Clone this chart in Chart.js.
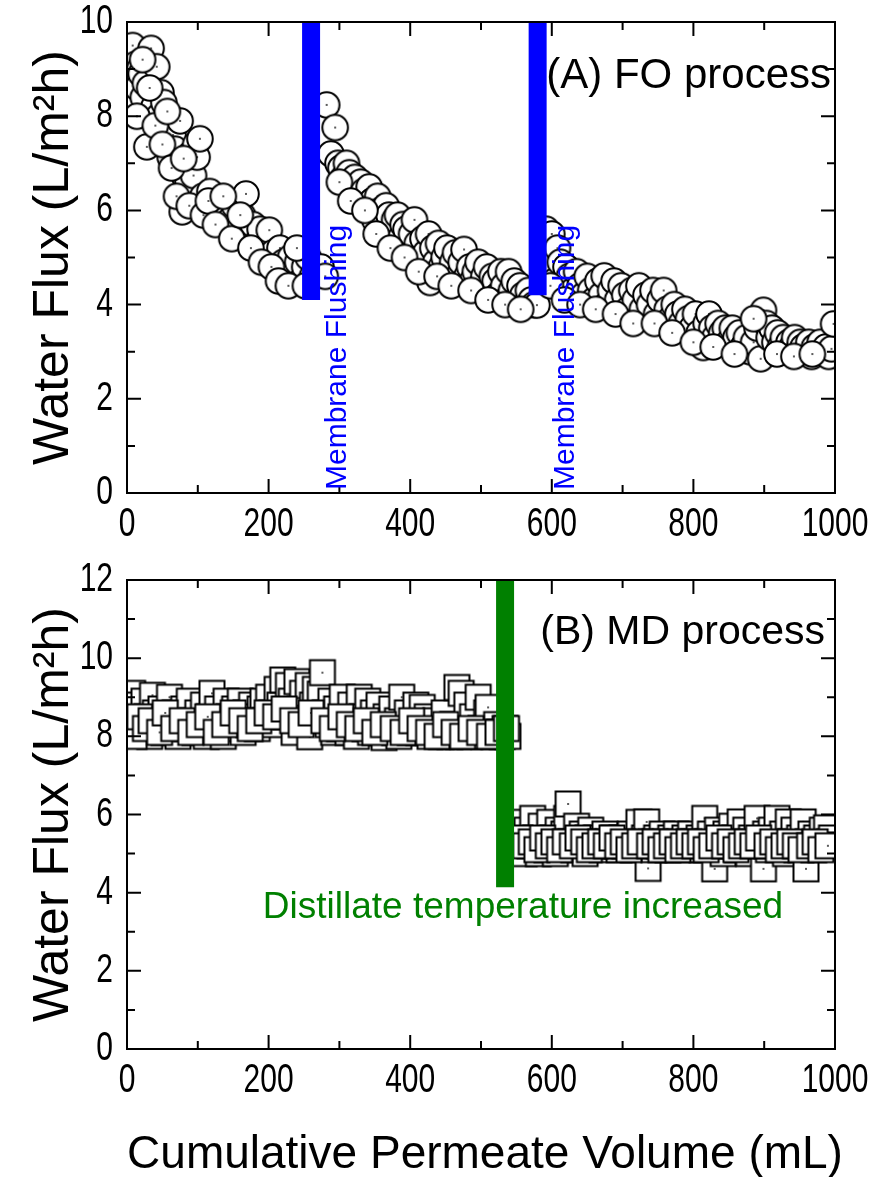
<!DOCTYPE html>
<html>
<head>
<meta charset="utf-8">
<script src="https://cdn.jsdelivr.net/npm/chart.js@4.4.1/dist/chart.umd.min.js"></script>
<style>
  body { margin: 0; background: #fff; }
  #wrap { position: relative; width: 879px; height: 1177px; }
  canvas { position: absolute; left: 0; }
  #foChart { top: 0; }
  #mdChart { top: 560px; }
</style>
</head>
<body>
<div id="wrap">
  <canvas id="foChart" width="879" height="560"></canvas>
  <canvas id="mdChart" width="879" height="617"></canvas>
</div>
<script>
const X_TICKS = [0, 200, 400, 600, 800, 1000];
const X_MINOR = [100, 300, 500, 700, 900];
const FO_Y_TICKS = [0, 2, 4, 6, 8, 10];
const FO_Y_MINOR = [1, 3, 5, 7, 9];
const MD_Y_TICKS = [0, 2, 4, 6, 8, 10, 12];
const MD_Y_MINOR = [1, 3, 5, 7, 9, 11];

// FO process, water flux vs cumulative permeate volume
const FO_X = [
  2, 5, 8, 10, 12, 15, 18, 20, 23, 26, 28, 34, 38, 42, 45, 48, 52, 55, 58, 61,
  65, 68, 72, 75, 78, 82, 86, 90, 94, 97, 99, 103, 107, 112, 117, 122, 128, 134, 140, 146,
  152, 158, 163, 168, 173, 178, 183, 188, 193, 197, 201, 206, 211, 216, 221, 226, 231, 236, 241, 246,
  251, 256, 262, 268, 274, 280,
  282, 288, 294, 298, 302, 306, 310, 314, 318, 322, 326, 330, 334, 338, 342, 346, 350, 354, 358, 362,
  366, 370, 374, 378, 382, 386, 390, 394, 398, 402, 406, 410, 414, 418, 422, 426, 428, 432, 436, 440,
  444, 448, 452, 456, 460, 464, 468, 472, 476, 480, 484, 488, 492, 496, 500, 504, 508, 512, 516, 520,
  524, 528, 532, 536, 539, 543, 547, 551, 555, 559, 563, 567, 571, 575, 579,
  588, 592, 596, 600, 604, 608, 612, 616, 620, 625, 630, 635, 640, 645, 650, 655, 660, 665, 670, 674,
  678, 683, 688, 693, 698, 703, 708, 713, 718, 723, 728, 733, 738, 743, 748, 753, 758, 763, 768, 773,
  778, 783, 788, 793, 798, 803, 808, 814, 818, 822, 826, 830, 835, 840, 845, 850, 855, 860, 865, 870,
  875, 880, 885, 890, 895, 899, 903, 907, 911, 915, 919, 923, 927, 931, 935, 939, 943, 947, 951, 955,
  959, 963, 967, 971, 975, 979, 983, 987, 991, 995, 998,
  14, 22, 32, 40, 50, 57, 63, 70, 80, 88, 108, 115, 125, 136, 148, 160, 175, 190, 204, 214,
  228, 240, 252, 300, 316, 336, 352, 372, 392, 412, 438, 458, 486, 510, 534, 556, 598, 618, 640, 662,
  690, 715, 745, 770, 800, 828, 858, 885, 918, 942, 968
];
const FO_Y = [
  9.4, 8.8, 9.5, 8.3, 9.1, 8.6, 9.0, 8.9, 8.4, 8.7, 7.35, 9.44, 8.2, 9.05, 8.0, 8.5, 8.29, 7.6, 7.9, 7.13,
  7.6, 7.3, 7.0, 7.9, 5.97, 6.7, 6.6, 7.2, 6.74, 7.4, 7.13, 7.52, 6.3, 6.0, 6.4, 6.1, 6.2, 5.9, 6.0, 5.8,
  6.1, 5.6, 5.9, 6.35, 5.5, 5.7, 5.3, 5.6, 5.2, 5.0, 5.58, 5.1, 4.8, 5.2, 4.9, 4.6, 5.0, 4.7, 4.9, 4.5,
  4.8, 5.0, 4.6, 4.7, 4.8, 4.6,
  8.24, 7.2, 7.76, 7.0, 6.9, 6.7, 7.0, 6.8, 6.5, 6.7, 6.3, 6.6, 6.4, 6.1, 6.5, 6.2, 5.8, 6.3, 6.0, 5.7,
  6.1, 5.9, 5.5, 5.8, 5.9, 5.4, 5.7, 5.6, 5.2, 5.5, 5.8, 5.3, 5.0, 5.4, 5.1, 5.5, 4.47, 5.2, 4.9, 5.3,
  4.8, 5.0, 5.2, 4.7, 4.9, 5.1, 4.6, 4.9, 5.17, 4.6, 4.8, 4.5, 4.7, 4.9, 4.4, 4.6, 4.8, 4.3, 4.6, 4.5,
  4.2, 4.7, 4.4, 4.1, 4.7, 4.3, 4.5, 4.0, 4.4, 4.2, 4.0, 4.3, 4.1, 4.0, 3.99,
  5.0, 5.6, 4.8, 5.5, 4.5, 5.2, 4.9, 4.4, 4.8, 4.6, 4.3, 4.7, 4.4, 4.2, 4.6, 4.3, 4.1, 4.5, 4.2, 4.61,
  4.0, 4.3, 4.5, 4.1, 4.4, 4.2, 3.9, 4.3, 4.1, 4.4, 3.9, 4.2, 4.0, 4.3, 3.8, 4.1, 4.3, 3.9, 3.7, 4.0,
  3.8, 3.6, 3.9, 3.7, 3.5, 3.8, 3.4, 3.09, 3.6, 3.8, 3.5, 3.3, 3.6, 3.4, 3.5, 3.2, 3.5, 3.3, 3.4, 3.1,
  3.3, 3.0, 3.2, 3.5, 2.85, 3.88, 3.6, 3.3, 3.5, 3.2, 3.4, 3.1, 3.3, 3.0, 3.2, 3.1, 3.3, 3.0, 3.2, 3.1,
  3.0, 3.2, 2.9, 3.1, 3.0, 3.2, 3.0, 3.1, 2.9, 3.06, 3.59,
  8.0, 9.2, 8.6, 7.8, 7.4, 8.1, 6.9, 6.3, 7.1, 6.1, 5.9, 6.2, 5.7, 6.3, 5.4, 5.9, 5.2, 4.9, 4.8, 4.5,
  4.4, 5.2, 4.4, 6.6, 6.2, 6.0, 5.5, 5.2, 5.0, 4.7, 4.6, 4.4, 4.3, 4.1, 4.0, 3.9, 4.4, 4.1, 4.0, 3.9,
  3.8, 3.6, 3.6, 3.4, 3.2, 3.1, 2.95, 3.7, 2.95, 2.9, 2.95
];

// MD process, water flux vs cumulative permeate volume
const MD_X = [
  0, 4, 8, 12, 16, 20, 24, 28, 32, 36, 40, 44, 48, 52, 56, 60, 64, 68, 72, 76,
  80, 84, 88, 92, 96, 100, 104, 108, 112, 116, 120, 124, 128, 132, 136, 140, 144, 148, 152, 156,
  160, 164, 168, 172, 176, 180, 184, 188, 192, 196, 200, 204, 208, 212, 216, 220, 224, 228, 232, 236,
  240, 244, 248, 252, 256, 258, 262, 266, 270, 273, 276, 280, 284, 288, 292, 296, 300, 304, 308, 312,
  316, 320, 324, 328, 332, 336, 340, 344, 348, 352, 356, 360, 363, 366, 370, 374, 378, 382, 384, 388,
  392, 396, 400, 404, 408, 412, 417, 420, 424, 428, 432, 436, 440, 444, 448, 452, 456, 460, 464, 466,
  468, 472, 476, 480, 484, 488, 492, 496, 500, 504, 508, 510, 514, 518, 522, 526, 530, 534, 538,
  2, 10, 18, 26, 34, 46, 54, 66, 78, 90, 102, 114, 126, 138, 150, 162, 174, 186, 198, 210,
  222, 234, 246, 260, 278, 290, 302, 314, 326, 338, 350, 362, 376, 390, 402, 414, 426, 438, 450, 462,
  474, 486, 498, 512, 524, 536,
  545, 549, 553, 557, 561, 565, 569, 573, 577, 581, 585, 589, 593, 597, 601, 605, 609, 613, 617, 621,
  623, 627, 631, 635, 639, 643, 647, 651, 655, 659, 663, 667, 671, 675, 679, 683, 687, 691, 695, 699,
  703, 707, 711, 715, 719, 723, 727, 731, 734, 736, 740, 744, 748, 752, 756, 760, 764, 768, 772, 776,
  780, 784, 788, 792, 796, 800, 804, 808, 812, 816, 820, 824, 828, 830, 834, 838, 842, 846, 850, 854,
  858, 862, 866, 870, 874, 878, 882, 886, 890, 894, 899, 902, 906, 910, 914, 918, 922, 926, 930, 934,
  938, 942, 946, 950, 955, 959, 962, 966, 970, 974, 978, 982, 988, 992, 995, 998,
  547, 555, 563, 571, 579, 587, 595, 603, 611, 619, 629, 637, 645, 653, 661, 669, 677, 685, 693, 701,
  709, 717, 725, 738, 746, 754, 762, 770, 778, 786, 794, 802, 810, 818, 826, 836, 844, 852, 860, 868,
  876, 884, 892, 904, 912, 920, 928, 936, 944, 952, 964, 972, 980, 990
];
const MD_Y = [
  8.6, 8.18, 9.1, 8.4, 8.8, 8.2, 8.9, 8.5, 8.0, 9.05, 8.6, 8.3, 8.7, 8.1, 8.4, 9.0, 8.3, 8.6, 8.0, 8.5,
  8.7, 8.2, 8.9, 8.4, 8.1, 8.6, 8.3, 8.8, 8.0, 8.5, 9.1, 8.3, 8.7, 8.4, 8.0, 8.9, 8.5, 8.2, 8.7, 8.4,
  8.9, 8.1, 8.6, 8.3, 8.8, 8.5, 8.2, 8.7, 8.9, 8.4, 9.0, 8.6, 8.3, 9.2, 8.8, 9.44, 8.5, 9.3, 8.9, 8.1,
  9.4, 8.7, 9.1, 8.4, 9.3, 7.99, 8.8, 9.2, 8.5, 9.08, 9.63, 8.6, 8.3, 8.9, 8.1, 8.7, 8.2, 9.0, 8.4, 8.1,
  8.8, 8.3, 8.0, 9.0, 8.5, 8.2, 8.9, 8.1, 8.6, 8.2, 8.8, 8.1, 7.97, 8.5, 8.2, 8.7, 8.1, 8.4, 8.0, 9.0,
  8.2, 8.6, 8.1, 8.3, 8.8, 8.1, 8.74, 8.2, 8.5, 8.0, 8.2, 8.4, 8.1, 8.0, 8.6, 8.2, 8.0, 8.3, 8.1, 9.25,
  8.0, 9.1, 8.2, 8.8, 8.0, 8.5, 8.1, 9.0, 8.2, 8.0, 8.6, 8.74, 8.1, 8.0, 8.3, 8.1, 8.0, 8.2, 8.0,
  8.3, 8.0, 8.5, 8.2, 8.4, 8.1, 8.6, 8.2, 8.4, 8.1, 8.3, 8.5, 8.1, 8.3, 8.6, 8.4, 8.2, 8.4, 8.6, 8.5,
  8.7, 8.4, 8.3, 8.6, 8.4, 8.2, 8.5, 8.3, 8.2, 8.4, 8.1, 8.3, 8.2, 8.1, 8.4, 8.2, 8.1, 8.0, 8.3, 8.1,
  8.0, 8.2, 8.1, 8.0, 8.1, 8.2,
  5.5, 5.1, 5.8, 5.3, 5.0, 5.6, 5.2, 5.9, 5.4, 5.0, 5.7, 5.3, 5.1, 5.8, 5.4, 5.0, 5.6, 5.2, 5.5, 5.9,
  6.27, 5.3, 5.1, 5.7, 5.2, 5.5, 5.0, 5.4, 5.6, 5.2, 5.4, 5.3, 5.1, 5.5, 5.3, 5.2, 5.4, 5.3, 5.1, 5.4,
  5.2, 5.3, 5.5, 5.1, 5.3, 5.8, 5.2, 5.4, 5.81, 4.62, 5.3, 5.1, 5.4, 5.2, 5.5, 5.3, 5.1, 5.4, 5.2, 5.5,
  5.3, 5.2, 5.4, 5.1, 5.5, 5.3, 5.2, 5.4, 5.1, 5.9, 5.3, 5.5, 5.2, 4.61, 5.6, 5.3, 5.0, 5.5, 5.2, 5.7,
  5.4, 5.1, 5.81, 5.3, 5.6, 5.0, 5.4, 5.2, 5.9, 5.3, 4.61, 5.5, 5.1, 5.6, 5.3, 5.9, 5.2, 5.5, 5.0, 5.81,
  5.3, 5.6, 5.1, 5.4, 5.81, 4.61, 5.3, 5.5, 5.1, 5.4, 5.2, 5.6, 5.66, 5.3, 5.4, 5.22,
  5.3, 5.4, 5.2, 5.3, 5.1, 5.4, 5.2, 5.3, 5.1, 5.3, 5.2, 5.4, 5.3, 5.1, 5.2, 5.3, 5.2, 5.4, 5.2, 5.3,
  5.1, 5.2, 5.3, 5.2, 5.3, 5.1, 5.2, 5.3, 5.1, 5.2, 5.3, 5.2, 5.3, 5.1, 5.2, 5.4, 5.2, 5.3, 5.1, 5.2,
  5.3, 5.2, 5.4, 5.2, 5.3, 5.1, 5.2, 5.3, 5.2, 5.1, 5.2, 5.3, 5.1, 5.2
];

// flushing / temperature change markers: [x, yFrom, yTo]
const FO_FLUSH = [[260, 4.1, 10], [580, 4.2, 10]];
const MD_SWITCH = [[534, 4.14, 12]];

const FONT = "'Liberation Sans', Arial, Helvetica, sans-serif";

function makeMarker(kind) {
  const c = document.createElement("canvas");
  c.width = 30;
  c.height = 30;
  const g = c.getContext("2d");
  g.fillStyle = "#fff";
  g.strokeStyle = "#000";
  g.lineWidth = 2;
  g.beginPath();
  if (kind === "circle") g.arc(15, 15, 12.8, 0, Math.PI * 2);
  else g.rect(2.5, 2.5, 25, 25);
  g.fill();
  g.stroke();
  g.fillStyle = "#000";
  g.fillRect(14.2, 14.2, 1.6, 1.6);
  return c;
}

function toPoints(xs, ys) {
  return xs.map((x, i) => ({ x, y: ys[i] }));
}

function markerDatasets(list, color) {
  return list.map(m => ({
    type: "line",
    data: [{ x: m[0], y: m[1] }, { x: m[0], y: m[2] }],
    borderColor: color,
    borderWidth: 18,
    borderCapStyle: "butt",
    pointRadius: 0,
    order: 0
  }));
}

function drawText(ctx, text, x, y, size, color, align, rot, sx) {
  ctx.save();
  ctx.translate(x, y);
  if (rot) ctx.rotate(rot);
  if (sx) ctx.scale(sx, 1);
  ctx.font = `${size}px ${FONT}`;
  ctx.fillStyle = color;
  ctx.textAlign = align;
  ctx.textBaseline = "middle";
  ctx.fillText(text, 0, 0);
  ctx.restore();
}

function framePlugin(yTicks, yMinor, extras) {
  return {
    id: "frame",
    afterDatasetsDraw(chart) {
      const { ctx, chartArea: a, scales } = chart;
      const xs = scales.x, ys = scales.y;
      ctx.save();
      ctx.strokeStyle = "#000";
      ctx.lineWidth = 2;
      ctx.strokeRect(a.left, a.top, a.right - a.left, a.bottom - a.top);
      ctx.beginPath();
      X_TICKS.concat(X_MINOR).forEach(v => {
        const len = X_TICKS.includes(v) ? 14 : 8;
        const px = xs.getPixelForValue(v);
        ctx.moveTo(px, a.bottom); ctx.lineTo(px, a.bottom - len);
        ctx.moveTo(px, a.top); ctx.lineTo(px, a.top + len);
      });
      yTicks.concat(yMinor).forEach(v => {
        const len = yTicks.includes(v) ? 14 : 8;
        const py = ys.getPixelForValue(v);
        ctx.moveTo(a.left, py); ctx.lineTo(a.left + len, py);
        ctx.moveTo(a.right, py); ctx.lineTo(a.right - len, py);
      });
      ctx.stroke();
      ctx.restore();

      X_TICKS.forEach(v => drawText(ctx, String(v), xs.getPixelForValue(v), a.bottom + 32, 40, "#000", "center", 0, 0.75));
      yTicks.forEach(v => drawText(ctx, String(v), a.left - 14, ys.getPixelForValue(v), 40, "#000", "right", 0, 0.75));
      drawText(ctx, "Water Flux (L/m²h)", 54, (a.top + a.bottom) / 2, 50, "#000", "center", -Math.PI / 2);
      extras(ctx, a, xs, ys);
    }
  };
}

function makeChart(canvas, datasets, yMax, yTicks, yMinor, padding, extras) {
  return new Chart(canvas, {
    type: "scatter",
    data: { datasets },
    options: {
      responsive: false,
      animation: false,
      devicePixelRatio: 1,
      events: [],
      layout: { padding },
      plugins: { legend: { display: false }, tooltip: { enabled: false } },
      scales: {
        x: { type: "linear", min: 0, max: 1000, display: false },
        y: { type: "linear", min: 0, max: yMax, display: false }
      }
    },
    plugins: [framePlugin(yTicks, yMinor, extras)]
  });
}

const circle = makeMarker("circle");
const square = makeMarker("square");

makeChart(
  document.getElementById("foChart"),
  [
    ...markerDatasets(FO_FLUSH, "#0000ff"),
    {
      data: toPoints(FO_X, FO_Y),
      pointStyle: circle,
      pointRadius: 13,
      clip: 0,
      order: 1
    }
  ],
  10, FO_Y_TICKS, FO_Y_MINOR,
  { top: 22, left: 127, right: 44, bottom: 67 },
  (ctx, a, xs) => {
    drawText(ctx, "(A) FO process", a.right - 4, 76, 42, "#000", "right");
    drawText(ctx, "Membrane Flushing", xs.getPixelForValue(297), a.bottom - 3, 30, "#0000ff", "left", -Math.PI / 2);
    drawText(ctx, "Membrane Flushing", xs.getPixelForValue(619), a.bottom - 3, 30, "#0000ff", "left", -Math.PI / 2);
  }
);

makeChart(
  document.getElementById("mdChart"),
  [
    ...markerDatasets(MD_SWITCH, "#008000"),
    {
      data: toPoints(MD_X, MD_Y),
      pointStyle: square,
      pointRadius: 13,
      clip: 0,
      order: 1
    }
  ],
  12, MD_Y_TICKS, MD_Y_MINOR,
  { top: 20, left: 127, right: 44, bottom: 128 },
  (ctx, a) => {
    drawText(ctx, "(B) MD process", a.right - 10, 73, 41, "#000", "right");
    drawText(ctx, "Distillate temperature increased", 523, 348, 37, "#008000", "center");
    drawText(ctx, "Cumulative Permeate Volume (mL)", 485, 595, 46, "#000", "center");
  }
);
</script>
</body>
</html>
